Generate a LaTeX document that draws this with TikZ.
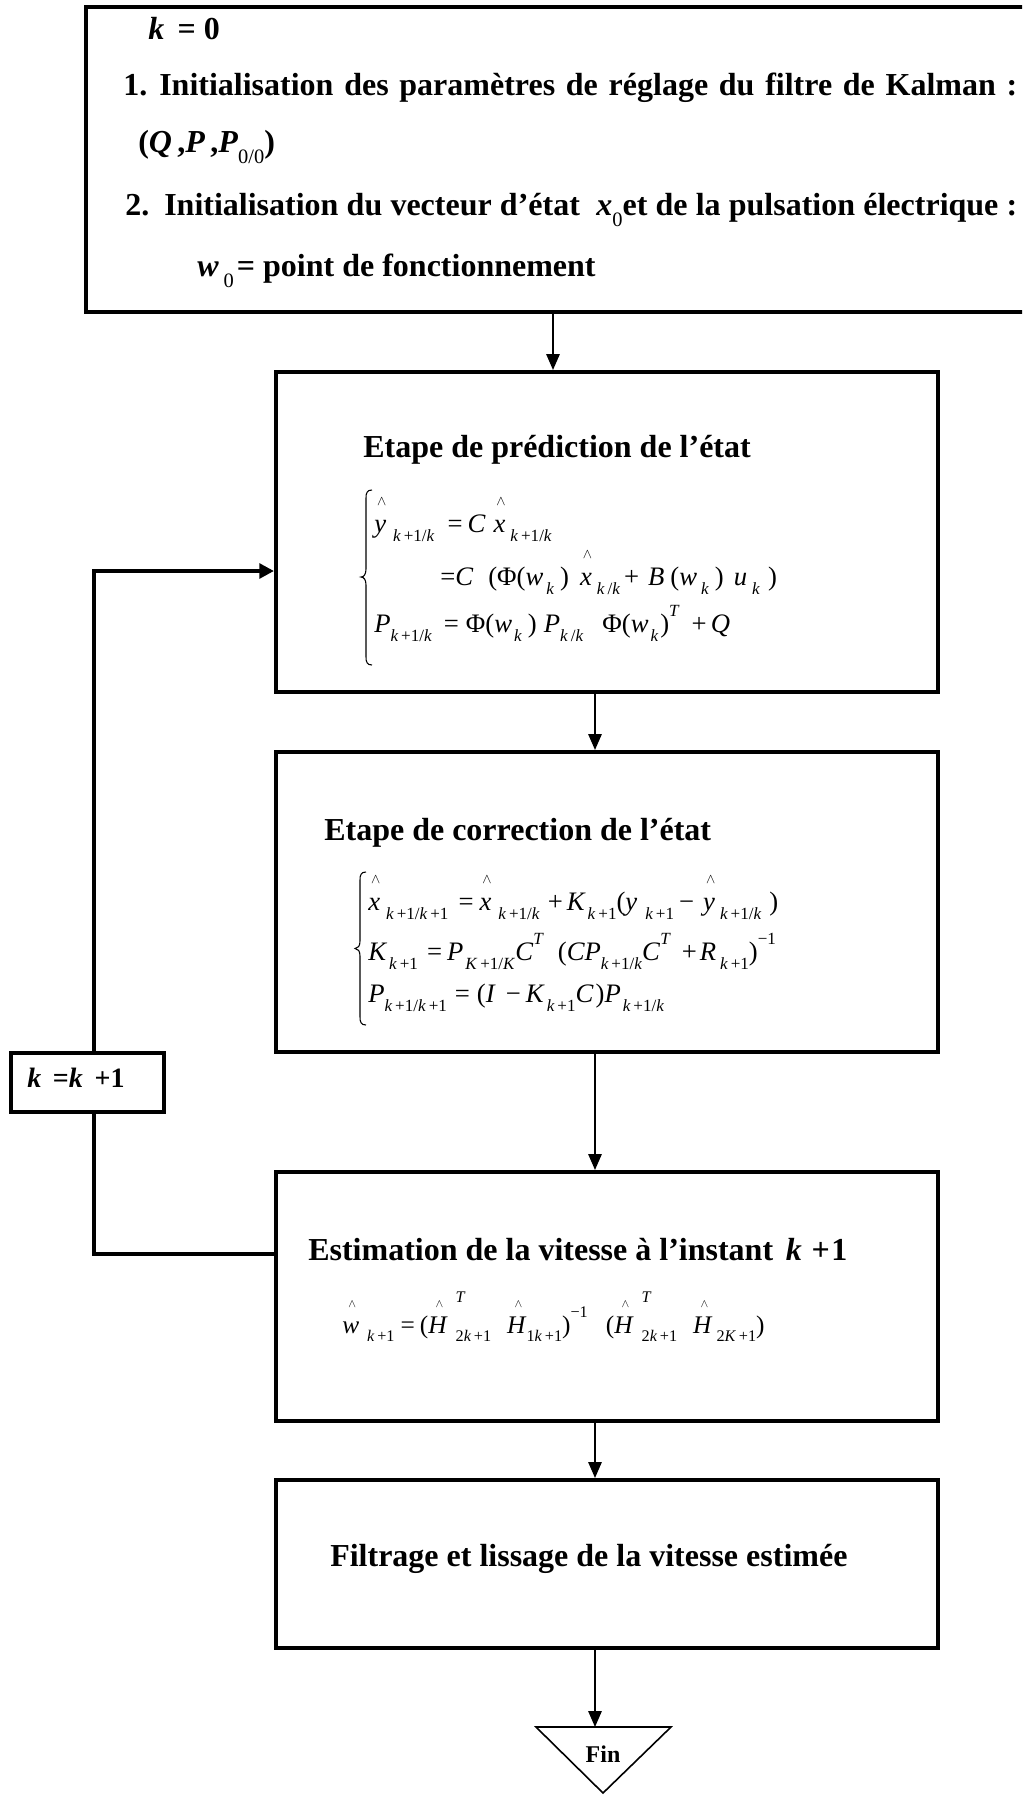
\documentclass[tikz,border=0pt]{standalone}
\usepackage{fontspec}
\setmainfont{Liberation Serif}
\usepackage{graphicx}
\usetikzlibrary{arrows.meta,calc}
\newlength\pxu
\setlength\pxu{0.75pt}
\newcommand\px[1]{\hspace*{#1\pxu}}
\newcommand\iv[1]{\textit{#1}}
\newcommand\hatop[1]{\ooalign{#1\cr\hidewidth\kern0.12em\raisebox{1.0em}{\scalebox{0.5}{$\wedge$}}\hidewidth\cr}}
\newcommand\sbs[1]{\raisebox{-0.35em}{\scalebox{0.64}{#1}}}
\newcommand\sps[1]{\raisebox{0.6em}{\scalebox{0.64}{#1}}}
\newcommand\supsb[2]{\rlap{\raisebox{1.2em}{\scalebox{0.64}{#1}}}\raisebox{-0.35em}{\scalebox{0.64}{#2}}}
\newcommand\kpo{\iv{k}\,+1}
\newcommand\kpok{\iv{k}\,+1/\iv{k}}
\begin{document}
\begin{tikzpicture}[x=0.75pt,y=-0.75pt,
  box/.style={draw, line width=3pt, inner sep=0pt, minimum width=496.5pt},
  txt/.style={anchor=base west, inner sep=0pt, font=\fontsize{24}{28}\selectfont\bfseries},
  eq/.style={anchor=base west, inner sep=0pt, font=\fontsize{20}{24}\selectfont},
  flow/.style={line width=1.5pt, -{Triangle[length=12pt,width=10pt]}},
  loopline/.style={line width=3pt},
  loopin/.style={line width=3pt, -{Triangle[length=11pt,width=11pt]}},
  bracestyle/.style={line width=0.8pt},
]
\useasboundingbox (0,0) rectangle (1022,1795);
\clip (0,0) rectangle (1022,1795);

% ---------- initialisation box ----------
\node[draw, line width=3pt, inner sep=0pt, minimum width=715.5pt, minimum height=228.75pt] (init) at (563,159.5) {};
\node[txt] (k0) at (148,39) {\iv{k}\ \,= 0};
\node[txt] (l1n) at (123,95) {1.};
\node[txt] (l1) at (159,95) {\makebox[643.5pt][s]{Initialisation des paramètres de réglage du filtre de Kalman :}};
\node[txt] (qpp) at (138,152) {(\iv{Q}\,,\iv{P}\,,\iv{P}\sbs{\mdseries 0/0})};
\node[txt] (l2n) at (125,215) {2.};
\node[txt] (l2) at (164,215) {\makebox[639.75pt][s]{Initialisation du vecteur d’état\ \ \iv{x}\sbs{\mdseries 0}et de la pulsation électrique :}};
\node[txt] (w0) at (197,276) {\iv{w}\px{5}\sbs{\mdseries 0}\px{3}= point de fonctionnement};

% ---------- main boxes ----------
\node[box, minimum height=240pt] (pred) at (607,532) {};
\node[box, minimum height=225pt] (corr) at (607,902) {};
\node[box, minimum height=186.75pt] (est) at (607,1296.5) {};
\node[box, minimum height=126pt] (filt) at (607,1564) {};
\node[draw, line width=3pt, inner sep=0pt, minimum width=114.75pt, minimum height=44.25pt] (kk) at (87.5,1082.5) {};
\node[txt, font=\fontsize{21}{24}\selectfont\bfseries] (kkt) at (27,1087) {\iv{k}\ \,=\iv{k}\ \,+1};

% ---------- headings ----------
\node[txt] (h1) at (363,457) {Etape de prédiction de l’état};
\node[txt] (h2) at (324,840) {Etape de correction de l’état};
\node[txt] (h3) at (308,1260) {Estimation de la vitesse à l’instant\hspace{0.4em}\iv{k}\hspace{0.3em}+\hspace{0.05em}1};
\node[txt] (h4) at (330,1566) {Filtrage et lissage de la vitesse estimée};

% ---------- prediction equations ----------
\draw[bracestyle] (372,490) .. controls (367,490) and (366,493) .. (366,498) -- (366,569)
  .. controls (366,574) and (364,577) .. (361,577) .. controls (364,577) and (366,580) .. (366,585)
  -- (366,657) .. controls (366,662) and (367,665) .. (372,665);
\node[eq] (p1) at (374,532) {\hatop{\iv{y}}\px{7}\sbs{\kpok}\px{13}=\px{5}\iv{C}\px{8}\hatop{\iv{x}}\px{5}\sbs{\kpok}};
\node[eq] (p2) at (440,585) {=\iv{C}\px{15}(Φ(\iv{w}\px{3}\sbs{\iv{k}}\px{6})\px{11}\hatop{\iv{x}}\px{5}\sbs{\iv{k}\,/\iv{k}}\px{4}+\px{9}\iv{B}\px{6}(\iv{w}\px{4}\sbs{\iv{k}}\px{6})\px{10}\iv{u}\px{5}\sbs{\iv{k}}\px{8})};
\node[eq] (p3) at (374,632) {\iv{P}\sbs{\kpok}\px{12}=\px{7}Φ(\iv{w}\px{2}\sbs{\iv{k}}\px{6})\px{7}\iv{P}\sbs{\iv{k}\,/\iv{k}}\px{19}Φ(\iv{w}\px{2}\sbs{\iv{k}}\px{2})\sps{\iv{T}}\px{12}+\px{4}\iv{Q}};

% ---------- correction equations ----------
\draw[bracestyle] (366,872) .. controls (361,872) and (360,875) .. (360,880) -- (360,941)
  .. controls (360,946) and (358,948.5) .. (355,948.5) .. controls (358,948.5) and (360,951) .. (360,956)
  -- (360,1017) .. controls (360,1022) and (361,1025) .. (366,1025);
\node[eq] (c1) at (368,910) {\hatop{\iv{x}}\px{6}\sbs{\kpok\,+1}\px{10}=\px{6}\hatop{\iv{x}}\px{7}\sbs{\kpok}\px{8}+\px{4}\iv{K}\px{2}\sbs{\kpo}(\iv{y}\px{8}\sbs{\kpo}\px{5}−\px{9}\hatop{\iv{y}}\px{5}\sbs{\kpok}\px{8})};
\node[eq] (c2) at (368,960) {\iv{K}\px{2}\sbs{\kpo}\px{9}=\px{5}\iv{P}\px{2}\sbs{\iv{K}\,+1/\iv{K}}\iv{C}\sps{\iv{T}}\px{14}(\iv{CP}\sbs{\kpok}\iv{C}\sps{\iv{T}}\px{11}+\px{3}\iv{R}\px{4}\sbs{\kpo})\sps{−1}};
\node[eq] (c3) at (368,1002) {\iv{P}\sbs{\kpok\,+1}\px{8}=\px{7}(\iv{I}\px{10}−\px{5}\iv{K}\px{2}\sbs{\kpo}\iv{C}\px{2})\iv{P}\px{2}\sbs{\kpok}};

% ---------- estimation equation ----------
\node[eq, font=\fontsize{19}{22}\selectfont] (e1) at (342,1333) {\hatop{\iv{w}}\px{8}\sbs{\kpo}\px{6}=\px{5}(\hatop{\iv{H}}\px{8}\supsb{\iv{T}}{2\kpo}\px{16}\hatop{\iv{H}}\sbs{1\kpo})\sps{−1}\px{18}(\hatop{\iv{H}}\px{8}\supsb{\iv{T}}{2\kpo}\px{16}\hatop{\iv{H}}\px{4}\sbs{2\iv{K}\,+1})};

% ---------- connectors ----------
\coordinate (ax1) at (553,0);
\coordinate (ax2) at (595,0);
\coordinate (lx) at (94,0);
\coordinate (ly1) at (0,1254);
\coordinate (ly2) at (0,571);
\coordinate (fintop) at (595,1727);
\draw[flow] (init.south -| ax1) -- (pred.north -| ax1);
\draw[flow] (pred.south -| ax2) -- (corr.north -| ax2);
\draw[flow] (corr.south -| ax2) -- (est.north -| ax2);
\draw[flow] (est.south -| ax2) -- (filt.north -| ax2);
\draw[flow] (filt.south -| ax2) -- (fintop);
\draw[loopline] (est.west |- ly1) -| (kk.south -| lx);
\draw[loopin] (kk.north -| lx) |- (pred.west |- ly2);

% ---------- end triangle ----------
\draw[line width=1.2pt] (536,1727) -- (671,1727) -- (603,1793) -- cycle;
\node[txt, font=\fontsize{18}{20}\selectfont\bfseries, anchor=base] (fin) at (603,1762) {Fin};
\end{tikzpicture}
\end{document}
